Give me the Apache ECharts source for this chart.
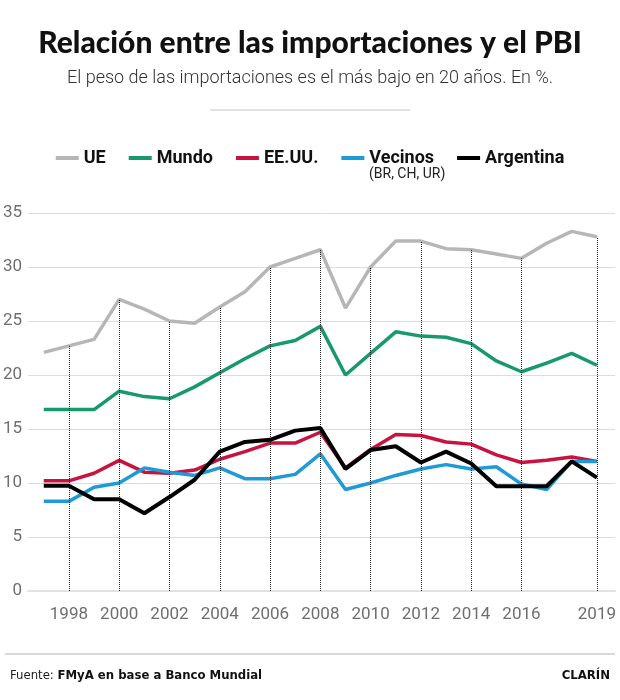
<!DOCTYPE html>
<html>
<head>
<meta charset="utf-8">
<script src="https://cdn.jsdelivr.net/npm/echarts@6/dist/echarts.min.js"></script>
<style>
html,body{margin:0;padding:0;background:#fff;}
#chart{width:620px;height:700px;}
</style>
</head>
<body>
<div id="chart"></div>
<script>
const years = [1997,1998,1999,2000,2001,2002,2003,2004,2005,2006,2007,2008,2009,2010,2011,2012,2013,2014,2015,2016,2017,2018,2019];
const ue        = [22.1,22.7,23.3,27.0,26.1,25.0,24.8,26.3,27.7,30.0,30.8,31.6,26.2,30.0,32.4,32.4,31.7,31.6,31.2,30.8,32.2,33.3,32.8];
const mundo     = [16.8,16.8,16.8,18.5,18.0,17.8,18.9,20.2,21.5,22.7,23.2,24.5,20.0,22.0,24.0,23.6,23.5,22.9,21.3,20.3,21.1,22.0,20.9];
const eeuu      = [10.2,10.2,10.9,12.1,11.0,10.9,11.2,12.2,12.9,13.7,13.7,14.7,11.4,13.1,14.5,14.4,13.8,13.6,12.6,11.9,12.1,12.4,12.0];
const vecinos   = [8.3,8.3,9.6,10.0,11.4,11.0,10.7,11.4,10.4,10.4,10.8,12.7,9.4,10.0,10.7,11.3,11.7,11.3,11.5,9.9,9.4,12.0,12.0];
const argentina = [9.75,9.75,8.5,8.5,7.2,8.7,10.3,12.9,13.8,14.0,14.85,15.1,11.3,13.05,13.4,11.9,12.9,11.8,9.7,9.7,9.7,12.0,10.5];
const xTickLabels = [1998,2000,2002,2004,2006,2008,2010,2012,2014,2016,2019];
const yTicks = [0,5,10,15,20,25,30,35];

const pair = (vals) => years.map((y,i) => [y, vals[i]]);
const dropLines = xTickLabels.map(y => {
  const v = ue[years.indexOf(y)];
  return [{coord:[y,0]},{coord:[y,v]}];
});

const chart = echarts.init(document.getElementById('chart'), null, {renderer:'canvas'});
const FONT = 'Roboto';
const COND = '"DejaVu Sans Condensed", "Roboto", sans-serif';
chart.setOption({
  backgroundColor:'#fff',
  animation:false,
  title:[
    {text:'Relación entre las importaciones y el PBI', left:'center', top:23,
     textStyle:{fontFamily:'Lato, Roboto, sans-serif', fontWeight:900, fontSize:30, color:'#111'}},
    {text:'El peso de las importaciones es el más bajo en 20 años. En %.', left:'center', top:64,
     textStyle:{fontFamily:FONT, fontWeight:300, fontSize:18, color:'#333'}},
    {text:'{n|Fuente: }{b|FMyA en base a Banco Mundial}', left:5, top:664,
     textStyle:{rich:{n:{fontFamily:COND, fontWeight:'normal', fontSize:13, color:'#222'},
                      b:{fontFamily:COND, fontWeight:'bold', fontSize:13, color:'#111'}}}},
    {text:'CLARÍN', right:5, top:664,
     textStyle:{fontFamily:COND, fontWeight:'bold', fontSize:13, color:'#111'}}
  ],
  graphic:[
    {type:'line', shape:{x1:210,y1:110,x2:410,y2:110}, style:{stroke:'#d9d9d9', lineWidth:1.5}},
    {type:'line', shape:{x1:5,y1:654,x2:615,y2:654}, style:{stroke:'#d9d9d9', lineWidth:2}},
    {type:'text', left:369, top:167, style:{text:'(BR, CH, UR)', font:'14px Roboto', fill:'#222'}}
  ],
  legend:{
    left:'center', top:144, icon:'rect', itemWidth:23, itemHeight:4, itemGap:23,
    textStyle:{fontFamily:FONT, fontWeight:'bold', fontSize:18, color:'#111'},
    data:['UE','Mundo','EE.UU.','Vecinos','Argentina']
  },
  grid:{left:27, right:5, top:213, bottom:109, containLabel:false},
  xAxis:{
    type:'value', min:1996.377, max:2019.72,
    splitLine:{show:false},
    axisLine:{show:true, lineStyle:{color:'#e2e2e2', width:2}},
    axisTick:{show:false},
    axisLabel:{customValues:xTickLabels, formatter:(v)=>String(v), margin:15,
               fontFamily:FONT, fontSize:17, color:'#6e6e6e'}
  },
  yAxis:{
    type:'value', min:0, max:35, interval:5,
    axisLine:{show:false}, axisTick:{show:false},
    splitLine:{lineStyle:{color:'#dcdcdc', width:1}},
    axisLabel:{margin:6, fontFamily:FONT, fontSize:17, color:'#6e6e6e'}
  },
  series:[
    {name:'UE', type:'line', data:pair(ue), showSymbol:false, symbol:'none', color:'#b6b6b6',
     lineStyle:{width:3.5, color:'#b6b6b6'}, z:1,
     markLine:{silent:true, symbol:'none', label:{show:false},
               lineStyle:{type:'dotted', color:'#222', width:1}, data:dropLines}},
    {name:'Mundo', type:'line', data:pair(mundo), symbol:'none', color:'#17996c',
     lineStyle:{width:3.5, color:'#17996c'}, z:2},
    {name:'EE.UU.', type:'line', data:pair(eeuu), symbol:'none', color:'#c8123f',
     lineStyle:{width:3.5, color:'#c8123f'}, z:3},
    {name:'Vecinos', type:'line', data:pair(vecinos), symbol:'none', color:'#1e9ad6',
     lineStyle:{width:3.5, color:'#1e9ad6'}, z:4},
    {name:'Argentina', type:'line', data:pair(argentina), symbol:'none', color:'#000',
     lineStyle:{width:4, color:'#000'}, z:5}
  ]
});
</script>
</body>
</html>
